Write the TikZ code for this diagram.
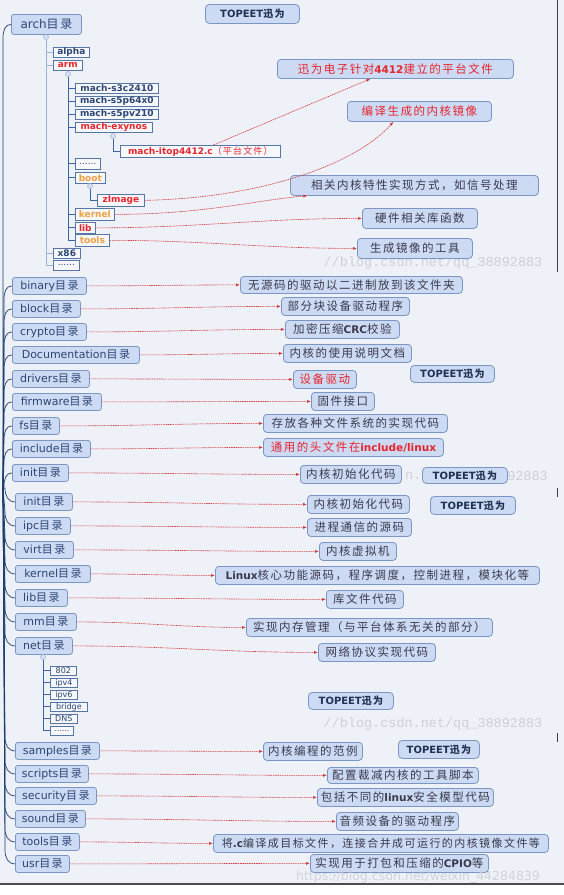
\documentclass[tikz,border=0pt]{standalone}
\usepackage{fontspec}
\setmainfont{DejaVu Sans}
\newfontfamily\cjk[LetterSpace=13]{Noto Sans CJK SC}
\newfontfamily\wmfont{Liberation Mono}
\newcommand\zh[1]{{\cjk #1}}
\newcommand\lb[1]{{\rmfamily\bfseries\fontsize{10.5}{12}\selectfont #1}}
\usetikzlibrary{arrows.meta}
\definecolor{bg}{HTML}{EEF1F7}
\definecolor{boxfill}{HTML}{CCDAF4}
\definecolor{boxdraw}{HTML}{7C96C4}
\definecolor{ltext}{HTML}{2E4675}
\definecolor{rtext}{HTML}{3A3A4A}
\definecolor{redt}{HTML}{E8242C}
\definecolor{orgt}{HTML}{F0A040}
\definecolor{sfill}{HTML}{F6F8FC}
\definecolor{sdraw}{HTML}{5576A6}
\definecolor{arr}{HTML}{D2373C}
\definecolor{trunk}{HTML}{1E3F6E}
\definecolor{ltree}{HTML}{9DB3D3}
\definecolor{dtree}{HTML}{3B64A0}
\definecolor{wmc}{HTML}{CDD0D6}
\tikzset{
  lbox/.style={draw=boxdraw, fill=boxfill, rounded corners=2.5pt, line width=0.8pt,
    text=ltext, font=\fontsize{11}{13}\selectfont, inner sep=0pt, anchor=north west,
    minimum height=17pt},
  rbox/.style={draw=boxdraw, fill=boxfill, rounded corners=3.5pt, line width=0.8pt,
    text=rtext, font=\cjk\fontsize{11.5}{13}\selectfont, inner sep=0pt, anchor=north west,
    minimum height=18pt},
  tbox/.style={draw=boxdraw, fill=boxfill, rounded corners=4pt, line width=0.8pt,
    text=ltext!70!black, font=\bfseries\fontsize{10}{12}\selectfont, inner sep=0pt, anchor=north west,
    minimum height=18pt},
  sbox/.style={draw=sdraw, fill=sfill, line width=0.7pt, text=ltext,
    font=\bfseries\fontsize{9}{10}\selectfont, inner sep=0pt, anchor=north west,
    minimum height=10pt},
  nbox/.style={sbox, font=\fontsize{8}{9}\selectfont, minimum height=9pt},
  dotn/.style={circle, fill=boxfill!80!white, draw=ltree, line width=0.5pt, inner sep=0pt, minimum size=5pt},
  rarr/.style={draw=arr, line width=0.6pt, dash pattern=on 1.5pt off 0.8pt,
    -{Latex[length=4pt,width=3pt]}},
  branch/.style={draw=trunk, line width=0.7pt},
  lt/.style={draw=ltree, line width=0.9pt},
  dt/.style={draw=dtree, line width=0.9pt},
  wm/.style={text=wmc, font=\wmfont\fontsize{13.5}{15}\selectfont, inner sep=0pt}
}
\begin{document}
\begin{tikzpicture}[x=1pt,y=-1pt]
\useasboundingbox (0,0) rectangle (564,895);
\fill[white] (0,0) rectangle (564,895);
\fill[bg] (0,0) rectangle (564,884);
\draw[line width=1.2pt, black!70] (0,884) -- (564,884);
\draw[line width=0.8pt, black!75] (557,0) -- (557,272);
\draw[line width=0.8pt, black!75] (557,488) -- (557,497);
\draw[line width=0.8pt, black!75] (557,733) -- (557,742);

% watermarks
\node[wm] (wm1) at (433,263) {//blog.csdn.net/qq\_38892883};
\node[wm, anchor=west] (wm2a) at (405,476) {n.};
\node[wm, anchor=east] (wm2b) at (548,476) {92883};
\node[wm] (wm3) at (433,724) {//blog.csdn.net/qq\_38892883};

\coordinate (root) at (3,488);

% ---------- left main boxes
\node[lbox, minimum width=70, minimum height=20, font=\fontsize{12}{14}\selectfont] (arch) at (11,14) {arch\zh{目录}};
\node[lbox, minimum width=74] (binary) at (12,277) {binary\zh{目录}};
\node[lbox, minimum width=68] (block) at (12,300) {block\zh{目录}};
\node[lbox, minimum width=74] (crypto) at (12,323) {crypto\zh{目录}};
\node[lbox, minimum width=127] (doc) at (12,346) {Documentation\zh{目录}};
\node[lbox, minimum width=77] (drivers) at (12,370) {drivers\zh{目录}};
\node[lbox, minimum width=89] (firmware) at (12,393) {firmware\zh{目录}};
\node[lbox, minimum width=47] (fs) at (12,417) {fs\zh{目录}};
\node[lbox, minimum width=78] (include) at (12,440) {include\zh{目录}};
\node[lbox, minimum width=56] (initA) at (12,464) {init\zh{目录}};
\node[lbox, minimum width=57] (initB) at (15,493) {init\zh{目录}};
\node[lbox, minimum width=55] (ipc) at (15,517) {ipc\zh{目录}};
\node[lbox, minimum width=58] (virt) at (15,541) {virt\zh{目录}};
\node[lbox, minimum width=75] (kernel) at (15,565) {kernel\zh{目录}};
\node[lbox, minimum width=52] (lib) at (15,589) {lib\zh{目录}};
\node[lbox, minimum width=61] (mm) at (15,613) {mm\zh{目录}};
\node[lbox, minimum width=57] (net) at (15,637) {net\zh{目录}};
\node[lbox, minimum width=84] (samples) at (15,742) {samples\zh{目录}};
\node[lbox, minimum width=73] (scripts) at (15,765) {scripts\zh{目录}};
\node[lbox, minimum width=81] (security) at (15,787) {security\zh{目录}};
\node[lbox, minimum width=70] (sound) at (15,810) {sound\zh{目录}};
\node[lbox, minimum width=64] (tools) at (15,833) {tools\zh{目录}};
\node[lbox, minimum width=54] (usr) at (15,855) {usr\zh{目录}};

% trunk branches
\foreach \n in {arch,binary,block,crypto,doc,drivers,firmware,fs,include,initA}
  \draw[branch] (\n.west) .. controls +(-6,0) and +(0,-8) .. ++(-8,14) -- (root);
\foreach \n in {initB,ipc,virt,kernel,lib,mm,net,samples,scripts,security,sound,tools,usr}
  \draw[branch] (\n.west) .. controls +(-7,0) and +(0,8) .. ++(-10,-14) -- (root);

% ---------- arch subtree
\node[sbox, minimum width=36] (alpha) at (53,47) {alpha};
\node[sbox, minimum width=29, text=redt] (arm) at (53,60) {arm};
\node[sbox, minimum width=83] (m1) at (75,83) {mach-s3c2410};
\node[sbox, minimum width=83] (m2) at (75,96) {mach-s5p64x0};
\node[sbox, minimum width=83] (m3) at (75,109) {mach-s5pv210};
\node[sbox, minimum width=77, text=redt] (mex) at (75,122) {mach-exynos};
\node[sbox, minimum width=160, minimum height=12, text=redt] (itop) at (120,145) {mach-itop4412.c\zh{\mdseries（平台文件）}};
\node[sbox, minimum width=25, minimum height=11] (sdots) at (75,158) {\mdseries......};
\node[sbox, minimum width=30, minimum height=11, text=orgt] (sboot) at (75,172) {boot};
\node[sbox, minimum width=47, minimum height=12, text=redt] (zimg) at (97,194) {zImage};
\node[sbox, minimum width=39, minimum height=12, text=orgt] (skern) at (75,208) {kernel};
\node[sbox, minimum width=20, minimum height=11, text=redt] (slib) at (75,222) {lib};
\node[sbox, minimum width=34, minimum height=12, text=orgt] (stools) at (75,234) {tools};
\node[sbox, minimum width=27] (x86) at (53,248) {x86};
\node[sbox, minimum width=26] (adots) at (53,260) {\mdseries......};

\node[dotn] (adot) at (46,37) {};
\node[dotn] (armdot) at (68,74) {};
\node[dotn] (exdot) at (113,136) {};
\node[dotn] (bootdot) at (90,186) {};

\draw[lt] (adot.south) -- (adot |- adots.west) -- (adots.west);
\foreach \n in {alpha,arm,x86} \draw[lt] (adot |- \n.west) -- (\n.west);
\draw[dt] (armdot.south) -- (armdot |- stools.west) -- (stools.west);
\foreach \n in {m1,m2,m3,mex,sdots,sboot,skern,slib} \draw[dt] (armdot |- \n.west) -- (\n.west);
\draw[dt] (exdot.south) |- (itop.west);
\draw[dt] (bootdot.south) |- (zimg.west);

% ---------- net subtree
\node[nbox, minimum width=26] (n802) at (50,666) {802};
\node[nbox, minimum width=27] (nipv4) at (50,678) {ipv4};
\node[nbox, minimum width=27] (nipv6) at (50,690) {ipv6};
\node[nbox, minimum width=37] (nbridge) at (50,702) {bridge};
\node[nbox, minimum width=27] (ndns) at (50,714) {DNS};
\node[nbox, minimum width=23] (ndots) at (50,726) {......};
\node[dotn] (netdot) at (43,657) {};
\draw[dt] (netdot.south) -- (netdot |- ndots.west) -- (ndots.west);
\foreach \n in {n802,nipv4,nipv6,nbridge,ndns} \draw[dt] (netdot |- \n.west) -- (\n.west);

% ---------- TOPEET labels
\node[tbox, minimum width=94, minimum height=19] (t1) at (205,4) {TOPEET\zh{迅为}};
\node[tbox, minimum width=84, minimum height=17] (t2) at (410,365) {TOPEET\zh{迅为}};
\node[tbox, minimum width=85, minimum height=16] (t3) at (422,467) {TOPEET\zh{迅为}};
\node[tbox, minimum width=85] (t4) at (430,496) {TOPEET\zh{迅为}};
\node[tbox, minimum width=85, minimum height=17] (t5) at (308,692) {TOPEET\zh{迅为}};
\node[tbox, minimum width=81] (t6) at (398,740) {TOPEET\zh{迅为}};

% ---------- right annotation boxes
\node[rbox, minimum width=236, minimum height=19, text=redt] (r4412) at (277,59) {迅为电子针对\lb{4412}建立的平台文件};
\node[rbox, minimum width=144, minimum height=20, text=redt] (rimg) at (347,101) {编译生成的内核镜像};
\node[rbox, minimum width=248, minimum height=20] (rkern) at (290,175) {相关内核特性实现方式，如信号处理};
\node[rbox, minimum width=115, minimum height=20] (rlib) at (362,208) {硬件相关库函数};
\node[rbox, minimum width=115, minimum height=20] (rtools) at (357,238) {生成镜像的工具};
\node[rbox, minimum width=222, minimum height=17] (rbinary) at (240,276) {无源码的驱动以二进制放到该文件夹};
\node[rbox, minimum width=128] (rblock) at (281,297) {部分块设备驱动程序};
\node[rbox, minimum width=114] (rcrypto) at (285,320) {加密压缩\lb{CRC}校验};
\node[rbox, minimum width=128] (rdoc) at (283,344) {内核的使用说明文档};
\node[rbox, minimum width=63, text=redt] (rdrivers) at (293,370) {设备驱动};
\node[rbox, minimum width=63] (rfirm) at (311,392) {固件接口};
\node[rbox, minimum width=184] (rfs) at (263,414) {存放各种文件系统的实现代码};
\node[rbox, minimum width=180, text=redt] (rinclude) at (263,438) {通用的头文件在\lb{include/linux}};
\node[rbox, minimum width=101] (rinitA) at (300,465) {内核初始化代码};
\node[rbox, minimum width=102] (rinitB) at (307,495) {内核初始化代码};
\node[rbox, minimum width=104] (ripc) at (307,518) {进程通信的源码};
\node[rbox, minimum width=77] (rvirt) at (319,542) {内核虚拟机};
\node[rbox, minimum width=324] (rkernel) at (215,566) {\lb{Linux}核心功能源码，程序调度，控制进程，模块化等};
\node[rbox, minimum width=77] (rlibB) at (326,590) {库文件代码};
\node[rbox, minimum width=246] (rmm) at (246,618) {实现内存管理（与平台体系无关的部分）};
\node[rbox, minimum width=117] (rnet) at (318,643) {网络协议实现代码};
\node[rbox, minimum width=99] (rsamples) at (263,742) {内核编程的范例};
\node[rbox, minimum width=151, minimum height=16] (rscripts) at (327,767) {配置裁减内核的工具脚本};
\node[rbox, minimum width=176] (rsecurity) at (317,788) {包括不同的\lb{linux}安全模型代码};
\node[rbox, minimum width=122] (rsound) at (336,812) {音频设备的驱动程序};
\node[rbox, minimum width=335, font=\cjk\fontsize{11}{13}\selectfont] (rtoolsB) at (213,834) {将\lb{.c}编译成目标文件，连接合并成可运行的内核镜像文件等};
\node[rbox, minimum width=178] (rusr) at (310,854) {实现用于打包和压缩的\lb{CPIO}等};

% ---------- red connectors
\draw[rarr] ([xshift=13pt]itop.north) -- ([xshift=-25pt]r4412.south);
\draw[rarr] (zimg.east) .. controls +(110,-2) and +(-40,45) .. ([xshift=-26pt]rimg.south);
\draw[rarr] (skern.east) .. controls +(90,0) and +(-50,4) .. ([xshift=-107pt]rkern.south);
\draw[rarr] (slib.east) to[out=0,in=180] (rlib.west);
\draw[rarr] (stools.east) to[out=0,in=180] (rtools.west);
\foreach \a/\b in {binary/rbinary,block/rblock,crypto/rcrypto,doc/rdoc,drivers/rdrivers,
  firmware/rfirm,fs/rfs,include/rinclude,initA/rinitA,initB/rinitB,ipc/ripc,virt/rvirt,
  kernel/rkernel,lib/rlibB,mm/rmm,net/rnet,samples/rsamples,scripts/rscripts,
  security/rsecurity,sound/rsound,tools/rtoolsB,usr/rusr}
  \draw[rarr] (\a.east) to[out=0,in=180] (\b.west);

% bottom watermark
\node[text=wmc, font=\fontsize{12.5}{14}\selectfont, inner sep=0pt, opacity=0.9] (wm4) at (418,877) {https://blog.csdn.net/weixin\_44284839};
\end{tikzpicture}
\end{document}
